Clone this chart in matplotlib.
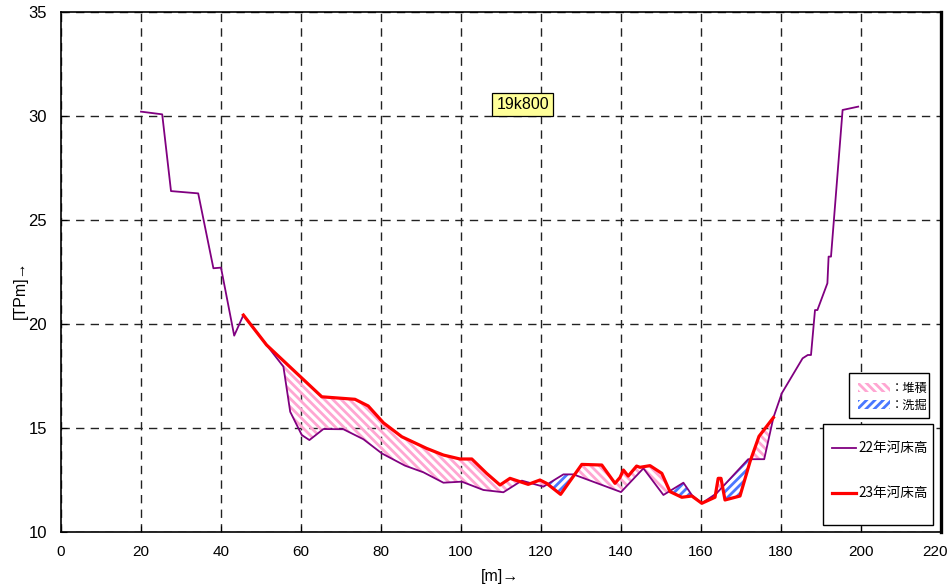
import matplotlib
matplotlib.use("Agg")
import matplotlib.pyplot as plt
import matplotlib.transforms as mtransforms
import numpy as np
from matplotlib import font_manager
from matplotlib.patches import Rectangle
from matplotlib.lines import Line2D


def pick(*names):
    for n in names:
        try:
            font_manager.findfont(font_manager.FontProperties(family=n),
                                  fallback_to_default=False)
            return n
        except Exception:
            pass
    return "DejaVu Sans"


NARROW = pick("Liberation Sans Narrow", "Liberation Sans")
SANS = pick("Liberation Sans", "DejaVu Sans")
JP = pick("Noto Sans CJK JP", "Noto Sans CJK SC")

# --- cross-section data (distance [m], elevation [TPm]) ---
x22 = [20.0, 25.3, 27.5, 34.3, 38.1, 40.0, 43.3, 45.6, 51.4, 55.6, 57.3,
       60.2, 62.1, 65.6, 70.6, 75.6, 80.2, 86.0, 90.6, 95.6, 100.2, 105.6,
       110.6, 115.2, 120.6, 125.6, 128.1, 140.0, 145.6, 150.6, 155.6, 157.7,
       160.2, 163.9, 171.8, 175.8, 178.1, 180.2, 185.4, 186.7, 187.5, 188.5,
       189.1, 191.6, 191.9, 192.5, 195.4, 199.3]
y22 = [30.21, 30.08, 26.39, 26.28, 22.68, 22.71, 19.44, 20.43, 18.99, 17.95,
       15.78, 14.66, 14.42, 14.95, 14.94, 14.46, 13.78, 13.19, 12.87, 12.37,
       12.42, 12.02, 11.91, 12.47, 12.18, 12.77, 12.77, 11.92, 13.06, 11.78,
       12.37, 11.78, 11.38, 11.86, 13.50, 13.50, 15.50, 16.67, 18.35, 18.51,
       18.51, 20.67, 20.67, 21.96, 23.24, 23.24, 30.29, 30.45]

x23 = [45.6, 51.4, 65.2, 73.5, 76.8, 80.6, 85.2, 91.4, 95.6, 99.75, 102.7,
       106.4, 109.75, 112.25, 114.75, 116.8, 119.75, 121.4, 124.9, 130.2,
       135.2, 138.5, 139.75, 140.6, 141.8, 143.9, 144.75, 147.25, 150.2,
       152.25, 155.2, 157.7, 160.2, 163.5, 164.3, 165.0, 166.0, 169.75,
       172.25, 174.5, 178.1]
y23 = [20.43, 18.99, 16.50, 16.38, 16.06, 15.25, 14.58, 14.02, 13.70, 13.51,
       13.51, 12.82, 12.26, 12.58, 12.42, 12.29, 12.50, 12.34, 11.81, 13.25,
       13.22, 12.34, 12.62, 12.98, 12.69, 13.17, 13.11, 13.19, 12.82, 11.94,
       11.67, 11.73, 11.38, 11.67, 12.58, 12.58, 11.54, 11.73, 13.38, 14.60,
       15.50]

x_ticks = list(range(0, 221, 20))
y_ticks = list(range(10, 36, 5))
section_name = "19k800"
label_22 = "22年河床高"
label_23 = "23年河床高"
label_dep = "：堆積"
label_sc = "：洗掘"

C22 = "#800080"
C23 = "#FF0000"
PINK = "#FFA6D2"
BLUE = "#4A78FF"
HATCH_DEP = "\\" * 4
HATCH_SC = "/" * 4

plt.rcParams["hatch.linewidth"] = 2.0

W, H = 949, 585
fig = plt.figure(figsize=(W / 100, H / 100), dpi=100)
L, R, T, B = 61, 941, 12, 532
ax = fig.add_axes([L / W, (H - B) / H, (R - L) / W, (B - T) / H])
ax.set_xlim(0, 220)
ax.set_ylim(10, 35)

# grid
ax.set_xticks(x_ticks)
ax.set_yticks(y_ticks)
ax.grid(True, color="#222222", lw=1.0, linestyle=(0, (6, 4.5)), zorder=1)
ax.set_axisbelow(True)

# deposition / scour areas between the two surveys
x22a = np.array(x22)
xs = np.union1d(np.array(x23), x22a[(x22a >= x23[0]) & (x22a <= x23[-1])])
p_i = np.interp(xs, x22, y22)
r_i = np.interp(xs, x23, y23)
ax.fill_between(xs, p_i, r_i, where=r_i >= p_i, interpolate=True,
                facecolor="none", edgecolor=PINK, linewidth=0,
                hatch=HATCH_DEP, zorder=2)
ax.fill_between(xs, p_i, r_i, where=r_i <= p_i, interpolate=True,
                facecolor="none", edgecolor=BLUE, linewidth=0,
                hatch=HATCH_SC, zorder=2)

ax.plot(x22, y22, color=C22, lw=1.3, zorder=4)
ax.plot(x23, y23, color=C23, lw=2.3, zorder=5)

# ticks and spines
ax.tick_params(axis="both", direction="in", length=4, color="black")
ax.tick_params(axis="x", pad=9)
ax.tick_params(axis="y", pad=10)
xlabels = ax.get_xticklabels()
for lab in xlabels:
    lab.set_fontfamily(NARROW)
    lab.set_fontsize(11)
# keep the last distance label inside the figure
xlabels[-1].set_transform(xlabels[-1].get_transform() +
                          mtransforms.ScaledTranslation(-6 / 100, 0,
                                                        fig.dpi_scale_trans))
for lab in ax.get_yticklabels():
    lab.set_fontfamily(SANS)
    lab.set_fontsize(12)
for s in ("left", "bottom", "top"):
    ax.spines[s].set_linewidth(1.2)
ax.spines["right"].set_linewidth(2.4)

fig.text(500 / W, 1 - 576 / H, "[m]→", family=[NARROW, JP],
         fontsize=11.5, ha="center", va="center")
fig.text(20 / W, 1 - 290 / H, "[TPm]→", family=[NARROW, JP],
         fontsize=11.5, ha="center", va="center", rotation=90)

# section name label
ax.text(115.4, 30.54, section_name, family=SANS, fontsize=11.5,
        ha="center", va="center", zorder=6,
        bbox=dict(boxstyle="square,pad=0.25", facecolor="#FFFF99",
                  edgecolor="black", lw=0.9))


def ac(px, py):
    return (px - L) / (R - L), (B - py) / (B - T)


def box(x0, y0, x1, y1, **kw):
    ax0, ay1 = ac(x0, y0)
    ax1, ay0 = ac(x1, y1)
    r = Rectangle((ax0, ay0), ax1 - ax0, ay1 - ay0, transform=ax.transAxes,
                  clip_on=False, zorder=7, **kw)
    ax.add_patch(r)
    return r


# area legend
box(849, 373, 929, 418, facecolor="white", edgecolor="black", lw=1.0)
box(858, 383, 890, 392, facecolor="white", edgecolor=PINK, lw=0,
    hatch=HATCH_DEP)
box(858, 400, 890, 409, facecolor="white", edgecolor=BLUE, lw=0,
    hatch=HATCH_SC)
for py, txt in ((388, label_dep), (405, label_sc)):
    tx, ty = ac(891, py)
    ax.text(tx, ty, txt, transform=ax.transAxes, family=JP, fontsize=8.8,
            ha="left", va="center", zorder=8)

# line legend
box(823, 424, 933, 525, facecolor="white", edgecolor="black", lw=1.0)
for py, col, lw, txt in ((448, C22, 1.3, label_22), (493, C23, 2.3, label_23)):
    lx0, ly = ac(832, py)
    lx1, _ = ac(856, py)
    ax.add_line(Line2D([lx0, lx1], [ly, ly], transform=ax.transAxes,
                       color=col, lw=lw, clip_on=False, zorder=8))
    tx, _ = ac(858, py)
    ax.text(tx, ly, txt, transform=ax.transAxes, family=JP, fontsize=9.8,
            ha="left", va="center", zorder=8)

fig.savefig("out.png", dpi=100)
